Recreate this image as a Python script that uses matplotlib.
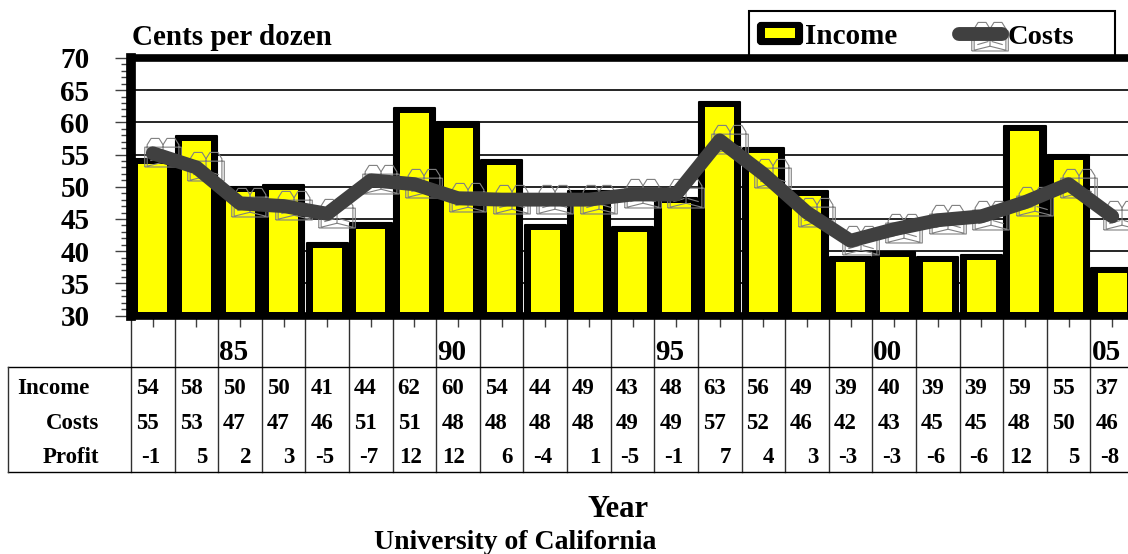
import matplotlib
matplotlib.use('Agg')
import matplotlib.pyplot as plt
from matplotlib.path import Path
from matplotlib.patches import Rectangle, FancyBboxPatch

plt.rcParams['font.family'] = ['Liberation Serif', 'DejaVu Serif']
plt.rcParams['font.weight'] = 'bold'

W, H = 1128, 554

# values
year_labels = ['', '', '85', '', '', '', '', '90', '', '', '', '', '95', '', '', '', '', '00', '', '', '', '', '05']
income = [54.3, 57.9, 50.0, 50.3, 41.3, 44.3, 62.3, 60.0, 54.2, 44.1, 49.3, 43.7, 48.3, 63.2, 56.0, 49.4,
          39.1, 39.9, 39.1, 39.4, 59.4, 54.9, 37.4]
costs = [55.2, 53.0, 47.4, 47.0, 45.8, 51.0, 50.4, 48.2, 48.0, 48.0, 48.0, 48.8, 48.8, 57.2, 52.0, 46.0,
         41.6, 43.4, 44.8, 45.4, 47.6, 50.4, 45.4]
income_row = ['54', '58', '50', '50', '41', '44', '62', '60', '54', '44', '49', '43', '48', '63', '56', '49', '39', '40', '39', '39', '59', '55', '37']
costs_row = ['55', '53', '47', '47', '46', '51', '51', '48', '48', '48', '48', '49', '49', '57', '52', '46', '42', '43', '45', '45', '48', '50', '46']
profit_row = ['-1', '5', '2', '3', '-5', '-7', '12', '12', '6', '-4', '1', '-5', '-1', '7', '4', '3', '-3', '-3', '-6', '-6', '12', '5', '-8']
ytick_vals = [30, 35, 40, 45, 50, 55, 60, 65, 70]

x = list(range(len(income)))

# open book outline used as the Costs marker, drawn right of its point
dx = 0.6
book_verts = [(0, -0.55), (-1, -0.8), (-1, 0.55), (-0.75, 0.95), (-0.25, 0.95), (0, 0.55),
              (0.25, 0.95), (0.75, 0.95), (1, 0.55), (1, -0.8), (0, -0.55), (0, 0.55),
              (-1.15, -0.85), (-1.15, 0.4), (1.15, 0.4), (1.15, -0.85), (-1.15, -0.85),
              (-0.8, -0.45), (-0.1, -0.25), (0.1, -0.25), (0.8, -0.45)]
book_codes = [Path.MOVETO] + [Path.LINETO] * 11 + [Path.MOVETO] + [Path.LINETO] * 4 + [Path.MOVETO, Path.LINETO, Path.MOVETO, Path.LINETO]
book = Path([(a + dx, b) for a, b in book_verts], book_codes)
book_size = 40


def px_axes(fig, left, top, right, bottom):
    return fig.add_axes([left / W, 1 - bottom / H, (right - left) / W, (bottom - top) / H])


fig = plt.figure(figsize=(W / 100, H / 100), dpi=100)
ax = px_axes(fig, 131, 58, 1134, 315.5)
ax.set_xlim(-0.5, len(x) - 0.5)
ax.set_ylim(30, 70)

ax.yaxis.grid(True, color='black', linewidth=1.2)
ax.set_axisbelow(True)
# black body with a narrower yellow face on top of it
ax.bar(x, [v - 30 for v in income], bottom=30, width=0.95, color='black', edgecolor='black', linewidth=1.5,
       joinstyle='round', zorder=2)
ax.bar(x, [v - 30.6 - 0.8 for v in income], bottom=30.6, width=0.665, color='#ffff00', zorder=2.5)
ax.plot(x, costs, linestyle='none', marker=book, markersize=book_size, markerfacecolor='none',
        markeredgecolor='#808080', markeredgewidth=0.8, zorder=3, clip_on=False)
ax.plot(x, costs, color='#404040', linewidth=10, solid_capstyle='round', solid_joinstyle='round', zorder=4,
        clip_on=False)

for name in ['top', 'bottom']:
    ax.spines[name].set_linewidth(5.5)
ax.spines['left'].set_linewidth(7)
ax.spines['right'].set_visible(False)

ax.set_yticks(ytick_vals)
ax.set_yticks(range(30, 71), minor=True)
ax.tick_params(axis='y', which='major', length=11.3, width=1, labelsize=21, pad=18.5, color='#404040')
ax.tick_params(axis='y', which='minor', length=7, width=1, color='#404040')
ax.set_xticks(x)
ax.set_xticklabels([])
ax.tick_params(axis='x', length=7.6, width=1, color='#404040')

# data table under the axis
tb = px_axes(fig, 131, 318, 1134, 472)
tb.set_xlim(-0.5, len(x) - 0.5)
tb.set_ylim(472, 318)
tb.axis('off')
cell = 1003 / len(x)
for i in range(len(x) + 1):
    tb.plot([i - 0.5, i - 0.5], [318, 472], color='#303030', linewidth=1, clip_on=False)
left_edge = -0.5 - 123 / cell
tb.plot([left_edge, len(x) - 0.5], [367, 367], color='black', linewidth=1, clip_on=False)
tb.plot([left_edge, len(x) - 0.5], [472, 472], color='black', linewidth=1, clip_on=False)
tb.plot([left_edge, left_edge], [367, 472], color='#303030', linewidth=1, clip_on=False)

for i, lab in enumerate(year_labels):
    if lab:
        tb.text(i - 0.5 + 1 / cell, 360, lab, ha='left', va='baseline', fontsize=21, clip_on=False)
for i in x:
    tb.text(i - 0.5 + 5 / cell, 394, income_row[i], ha='left', va='baseline', fontsize=16.5)
    tb.text(i - 0.5 + 5 / cell, 429, costs_row[i], ha='left', va='baseline', fontsize=16.5)
    off = 33 if len(profit_row[i]) == 1 else 29
    tb.text(i - 0.5 + off / cell, 463, profit_row[i], ha='right', va='baseline', fontsize=16.5)
tb.text(-0.5 - 114 / cell, 394, 'Income', ha='left', va='baseline', fontsize=16.5)
tb.text(-0.5 - 32 / cell, 429, 'Costs', ha='right', va='baseline', fontsize=16.5)
tb.text(-0.5 - 32 / cell, 463, 'Profit', ha='right', va='baseline', fontsize=16.5)

fig.text(132 / W, 1 - 45 / H, 'Cents per dozen', fontsize=21, ha='left', va='baseline')
fig.text(618.5 / W, 1 - 517 / H, 'Year', fontsize=22, ha='center', va='baseline')
fig.text(515 / W, 1 - 549 / H, 'University of California', fontsize=20, ha='center', va='baseline')

# legend box
lg = px_axes(fig, 740, 5, 1125, 60)
lg.set_zorder(-1)
ax.set_zorder(1)
ax.patch.set_alpha(0)
lg.set_xlim(740, 1125)
lg.set_ylim(60, 5)
lg.axis('off')
lg.add_patch(Rectangle((748.5, 11), 366, 50, facecolor='white', edgecolor='black', linewidth=1.5))
lg.add_patch(FancyBboxPatch((759, 24), 42, 19, boxstyle='round,pad=0,rounding_size=2', facecolor='black',
                            edgecolor='black', linewidth=3))
lg.add_patch(Rectangle((765, 28), 30, 10, facecolor='#ffff00', edgecolor='none', zorder=3))
lg.plot([980], [36.5], marker=book, markersize=book_size, markerfacecolor='none', markeredgecolor='#808080',
        markeredgewidth=0.8, zorder=2)
lg.plot([958.5, 1001.5], [33.5, 33.5], color='#404040', linewidth=10, solid_capstyle='round', zorder=3)
lg.text(805, 44, 'Income', fontsize=21, ha='left', va='baseline')
lg.text(1008, 44, 'Costs', fontsize=20.5, ha='left', va='baseline')

fig.savefig('out.png', dpi=100)
